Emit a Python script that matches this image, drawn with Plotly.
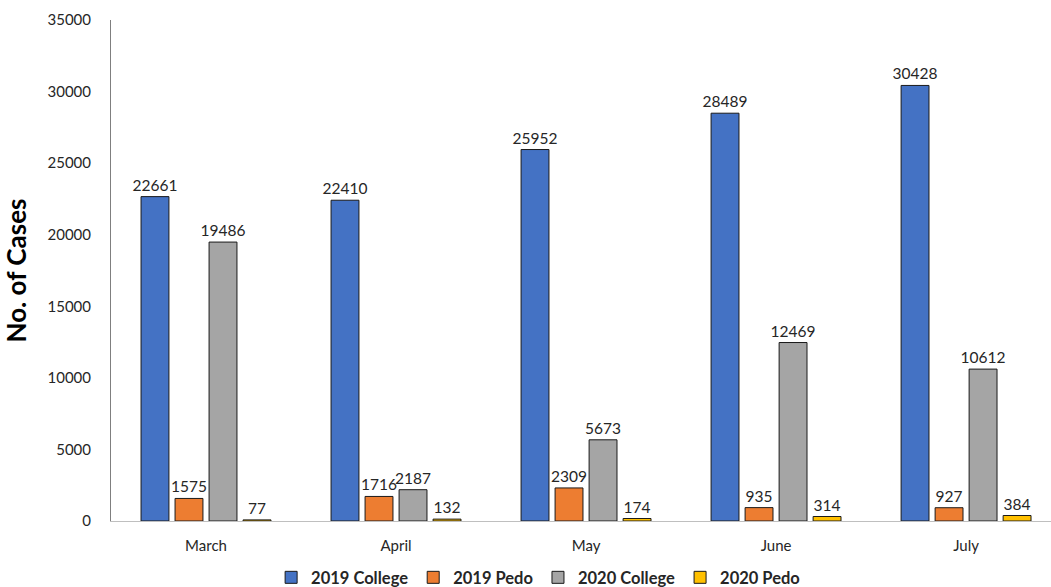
import plotly.graph_objects as go

months = ["March", "April", "May", "June", "July"]
college_2019 = [22661, 22410, 25952, 28489, 30428]
pedo_2019 = [1575, 1716, 2309, 935, 927]
college_2020 = [19486, 2187, 5673, 12469, 10612]
pedo_2020 = [77, 132, 174, 314, 384]

series = [
    ("2019 College", college_2019, "#4472C4"),
    ("2019 Pedo", pedo_2019, "#ED7D31"),
    ("2020 College", college_2020, "#A5A5A5"),
    ("2020 Pedo", pedo_2020, "#FFC000"),
]

FONT = "Lato, 'Open Sans', sans-serif"

fig = go.Figure()
for name, vals, color in series:
    fig.add_trace(go.Bar(
        x=months, y=vals, name=name,
        marker=dict(color=color, line=dict(color="#1a1a1a", width=1)),
        text=[str(v) for v in vals], textposition="outside",
        constraintext="none",
        textfont=dict(size=15.5, color="#262626", family=FONT),
        cliponaxis=False,
    ))

fig.update_layout(
    width=1051, height=587,
    margin=dict(l=111, r=0, t=20, b=66, autoexpand=False),
    plot_bgcolor="white", paper_bgcolor="white",
    barmode="group", bargap=0.284, bargroupgap=0.18,
    font=dict(family=FONT, color="#262626"),
    showlegend=True,
    legend=dict(orientation="h", xref="container", x=0.512, xanchor="center",
                yref="container", y=0.016, yanchor="middle",
                font=dict(size=16.5, family=FONT, color="#262626", weight="bold"),
                itemwidth=30, traceorder="normal"),
    xaxis=dict(range=[-0.5, 4.447], showline=True, linecolor="#bfbfbf", linewidth=1,
               ticks="", ticklabelstandoff=11,
               tickfont=dict(size=15, family=FONT, color="#262626")),
    yaxis=dict(range=[0, 35000], dtick=5000, tickformat="d", showgrid=False,
               zeroline=False, showline=True, linecolor="#7f7f7f", linewidth=1,
               ticks="", ticklabelstandoff=16,
               tickfont=dict(size=15, family=FONT, color="#262626"),
               title=dict(text="<b>No. of Cases</b>", standoff=17,
                          font=dict(size=26, family=FONT, color="#000000"))),
)

fig.write_html("out.html")
